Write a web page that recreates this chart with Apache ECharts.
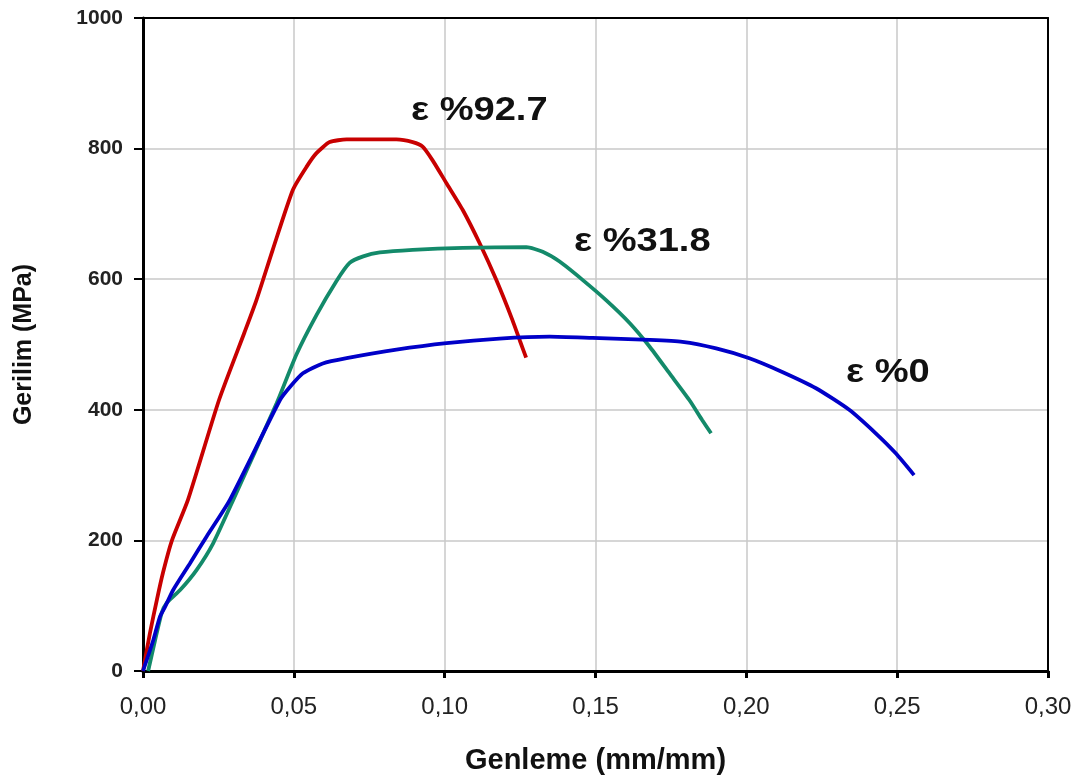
<!DOCTYPE html>
<html>
<head>
<meta charset="utf-8">
<script src="https://cdn.jsdelivr.net/npm/echarts@6/dist/echarts.min.js"></script>
<style>
html,body{margin:0;padding:0;background:#fff;}
#c{width:1083px;height:783px;}
</style>
</head>
<body>
<div id="c"></div>
<script>
// Strain (mm/mm), stress (MPa) pairs
const seriesNames = ['ε %92.7', 'ε %31.8', 'ε %0'];
const red927 = [[0,0],[0.0023,58],[0.0046,109],[0.0066,150],[0.0096,200],[0.0149,262],[0.0252,415],[0.0336,518],[0.0376,568],[0.0430,645],[0.0497,737],[0.0542,772],[0.0575,793],[0.0619,810],[0.0675,814],[0.0840,814],[0.0894,810],[0.0927,803],[0.0960,782],[0.1006,747],[0.1060,706],[0.1116,655],[0.1171,599],[0.1225,537],[0.1250,505],[0.1270,480]];
const green318 = [[0.0017,0],[0.0040,47],[0.0062,89],[0.0078,104],[0.0123,124],[0.0178,155],[0.0233,196],[0.0299,262],[0.0443,410],[0.0509,485],[0.0575,545],[0.0641,597],[0.0685,625],[0.0730,635],[0.0785,641],[0.0894,645],[0.1060,648],[0.1271,649],[0.1325,642],[0.1381,627],[0.1457,599],[0.1535,568],[0.1613,533],[0.1679,497],[0.1745,456],[0.1811,415],[0.1854,384],[0.1883,364]];
const blue0 = [[0,0],[0.0034,47],[0.0056,83],[0.0073,98],[0.0100,124],[0.0156,165],[0.0211,206],[0.0288,262],[0.0454,415],[0.0487,435],[0.0530,456],[0.0596,471],[0.0675,479],[0.0840,492],[0.1006,502],[0.1182,509],[0.1348,512],[0.1490,510],[0.1679,507],[0.1788,504],[0.1900,494],[0.2010,479],[0.2119,458],[0.2231,433],[0.2341,400],[0.2429,364],[0.2496,333],[0.2556,300]];
const xTicks = [0, 0.05, 0.10, 0.15, 0.20, 0.25, 0.30];
const yTicks = [0, 200, 400, 600, 800, 1000];
const xTitle = 'Genleme (mm/mm)';
const yTitle = 'Gerilim (MPa)';

const FONT = '"Liberation Sans", Arial, Helvetica, sans-serif';
const colors = ['#c80000', '#138a6a', '#0000c8'];
const chart = echarts.init(document.getElementById('c'), null, {renderer:'canvas'});

function line(name, data, color){
  return {
    name: name, type: 'line', data: data, showSymbol: false, smooth: 0.2,
    lineStyle: {color: color, width: 3.8}, z: 3, animation: false
  };
}
const xMin = xTicks[0], xMax = xTicks[xTicks.length-1];
const yMin = yTicks[0], yMax = yTicks[yTicks.length-1];

chart.setOption({
  backgroundColor: '#ffffff',
  animation: false,
  grid: {left: 143, right: 35, top: 18, bottom: 112, show: false, containLabel: false},
  xAxis: [{
    type: 'value', min: xMin, max: xMax, interval: 0.05,
    name: xTitle, nameLocation: 'middle', nameGap: 75,
    nameTextStyle: {fontFamily: FONT, fontSize: 29, fontWeight: 'bold', color: '#111'},
    axisLine: {show: true, onZero: false, lineStyle: {color: '#000', width: 3}},
    axisTick: {show: true, inside: false, length: 7, lineStyle: {color: '#000', width: 3}},
    axisLabel: {margin: 24, fontFamily: FONT, fontSize: 24, color: '#222',
      formatter: v => v.toFixed(2).replace('.', ',')},
    splitLine: {show: true, lineStyle: {color: '#c8c8c8', width: 1.5}}
  }, {
    type: 'value', position: 'top', min: xMin, max: xMax, interval: 0.05,
    axisLine: {show: true, onZero: false, lineStyle: {color: '#000', width: 2}},
    axisTick: {show: false}, axisLabel: {show: false}, splitLine: {show: false}
  }],
  yAxis: [{
    type: 'value', min: yMin, max: yMax, interval: 200,
    name: yTitle, nameLocation: 'middle', nameGap: 106, nameRotate: 90,
    nameTextStyle: {fontFamily: FONT, fontSize: 25, fontWeight: 'bold', color: '#111'},
    axisLine: {show: true, onZero: false, lineStyle: {color: '#000', width: 3}},
    axisTick: {show: true, inside: false, length: 9, lineStyle: {color: '#000', width: 2}},
    axisLabel: {margin: 20, fontFamily: FONT, fontSize: 21, fontWeight: 'bold', color: '#222',
      formatter: v => String(v)},
    splitLine: {show: true, lineStyle: {color: '#c8c8c8', width: 1.5}}
  }, {
    type: 'value', position: 'right', min: yMin, max: yMax, interval: 200,
    axisLine: {show: true, onZero: false, lineStyle: {color: '#000', width: 2}},
    axisTick: {show: false}, axisLabel: {show: false}, splitLine: {show: false}
  }],
  series: [line(seriesNames[0], red927, colors[0]), line(seriesNames[1], green318, colors[1]), line(seriesNames[2], blue0, colors[2])],
  graphic: [
    {type: 'text', left: 411, top: 94, scaleX: 1.12, z: 10, style: {text: seriesNames[0], font: 'bold 34px ' + FONT, fill: '#111'}},
    {type: 'text', left: 574, top: 225, scaleX: 1.12, z: 10, style: {text: seriesNames[1], font: 'bold 34px ' + FONT, fill: '#111'}},
    {type: 'text', left: 846, top: 356, scaleX: 1.12, z: 10, style: {text: seriesNames[2], font: 'bold 34px ' + FONT, fill: '#111'}}
  ]
});
</script>
</body>
</html>
